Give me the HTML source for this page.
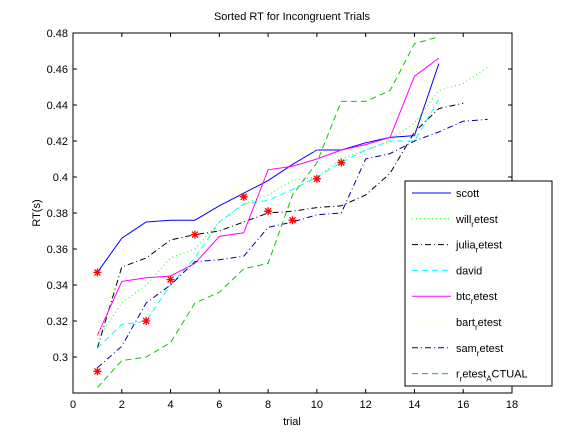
<!DOCTYPE html>
<html><head><meta charset="utf-8"><style>
body{margin:0;background:#fff;font-family:"Liberation Sans",sans-serif}
svg text{font-family:"Liberation Sans",sans-serif;font-size:11px;fill:#000}
</style></head><body>
<svg id="c" width="564" height="440"></svg>
<script>
const xTicks=[0,2,4,6,8,10,12,14,16,18];
const yTicks=[0.3,0.32,0.34,0.36,0.38,0.4,0.42,0.44,0.46,0.48];
const scott=[0.347,0.366,0.375,0.376,0.376,0.384,0.391,0.398,0.407,0.415,0.415,0.419,0.422,0.423,0.463];
const will=[0.31,0.33,0.34,0.355,0.36,0.375,0.385,0.39,0.398,0.4,0.41,0.415,0.42,0.43,0.448,0.452,0.461];
const julia=[0.305,0.35,0.355,0.365,0.368,0.37,0.375,0.38,0.381,0.383,0.384,0.39,0.402,0.425,0.438,0.441];
const david=[0.305,0.318,0.32,0.34,0.355,0.375,0.385,0.387,0.393,0.4,0.408,0.415,0.42,0.42,0.443];
const btc=[0.312,0.342,0.344,0.345,0.352,0.367,0.369,0.404,0.406,0.41,0.415,0.418,0.422,0.456,0.466];
const bart=[0.31,0.355,0.37,0.38,0.385,0.39,0.396,0.4,0.41,0.415,0.425,0.44,0.46,0.46,0.465];
const sam=[0.294,0.306,0.33,0.34,0.353,0.354,0.356,0.372,0.375,0.379,0.38,0.41,0.413,0.42,0.425,0.431,0.432];
const actual=[0.283,0.298,0.3,0.308,0.33,0.336,0.349,0.352,0.39,0.408,0.442,0.442,0.448,0.474,0.478];
const starX=[1,1,3,4,5,7,8,9,10,11];
const starY=[0.347,0.292,0.32,0.343,0.368,0.389,0.381,0.376,0.399,0.408];
const L=73,R=512,T=33,B=393;
const sx=v=>L+(v-0)/18*(R-L);
const sy=v=>B-(v-0.28)/0.2*(B-T);
const svg=document.getElementById('c');
const NS='http://www.w3.org/2000/svg';
function mk(t,a,p){const e=document.createElementNS(NS,t);for(const k in a)e.setAttribute(k,a[k]);(p||svg).appendChild(e);return e;}
let e=mk('rect',{x:L,y:T,width:R-L,height:B-T,fill:'#fff',stroke:'#000'});


xTicks.forEach(v=>{mk('line',{x1:sx(v),x2:sx(v),y1:B,y2:B-4,stroke:'#000'});mk('line',{x1:sx(v),x2:sx(v),y1:T,y2:T+4,stroke:'#000'});
 const t=mk('text',{x:sx(v),y:B+15,'text-anchor':'middle'});t.textContent=v;
 
 });
yTicks.forEach(v=>{mk('line',{x1:L,x2:L+4,y1:sy(v),y2:sy(v),stroke:'#000'});mk('line',{x1:R,x2:R-4,y1:sy(v),y2:sy(v),stroke:'#000'});
 const t=mk('text',{x:L-5,y:sy(v)+4,'text-anchor':'end'});t.textContent=String(+v.toFixed(2));
 
 });
let t=mk('text',{x:292,y:20,'text-anchor':'middle'});t.textContent='Sorted RT for Incongruent Trials';


t=mk('text',{x:292,y:425,'text-anchor':'middle'});t.textContent='trial';


t=mk('text',{x:40,y:213,'text-anchor':'middle',transform:'rotate(-90 40 213)'});t.textContent='RT(s)';


const series=[
 ['scott',scott,'#0000ff',''],['will',will,'#00ff00','1 3'],['julia',julia,'#000','6 3 1 3'],['david',david,'#00ffff','6 4'],
 ['btc',btc,'#ff00ff',''],['bart',bart,'#ffff66','1 3'],['sam',sam,'#0000aa','6 3 1 3'],['actual',actual,'#00cc00','6 4']];
series.forEach(s=>{const pts=s[1].map((v,i)=>sx(i+1)+','+sy(v)).join(' ');
 const p=mk('polyline',{points:pts,fill:'none',stroke:s[2],'stroke-width':1,'stroke-dasharray':s[3]});
 
 });
starX.forEach((x,i)=>{const cx=sx(x),cy=sy(starY[i]),r=4;
 const g=mk('path',{d:`M${cx-r},${cy}H${cx+r}M${cx},${cy-r}V${cy+r}M${cx-3},${cy-3}L${cx+3},${cy+3}M${cx-3},${cy+3}L${cx+3},${cy-3}`,stroke:'#ff0000','stroke-width':1.3});
 
 });
const lg=mk('g',{});


mk('rect',{x:405,y:181,width:147,height:205,fill:'#fff',stroke:'#000'},lg);
const names=[['scott'],['will','etest'],['julia','etest'],['david'],['btc','etest'],['bart','etest'],['sam','etest'],['r','etest','ACTUAL']];
names.forEach((n,i)=>{const y=193+i*25.8;const s=series[i];
 mk('line',{x1:412,x2:451,y1:y,y2:y,stroke:s[2],'stroke-dasharray':s[3]},lg);
 const tx=mk('text',{x:456,y:y+4},lg);
 
 
 if(n.length==1){tx.textContent=n[0];}
 else if(n.length==2){tx.appendChild(document.createTextNode(n[0]));const r=mk('tspan',{dy:4,'font-size':8},tx);r.textContent='r';const r2=mk('tspan',{dy:-4},tx);r2.textContent=n[1];}
 else{tx.appendChild(document.createTextNode('r'));const a=mk('tspan',{dy:4,'font-size':8},tx);a.textContent='r';const b=mk('tspan',{dy:-4},tx);b.textContent='etest';const c=mk('tspan',{dy:4,'font-size':8},tx);c.textContent='A';const d=mk('tspan',{dy:-4},tx);d.textContent='CTUAL';}
});
</script>
</body></html>
